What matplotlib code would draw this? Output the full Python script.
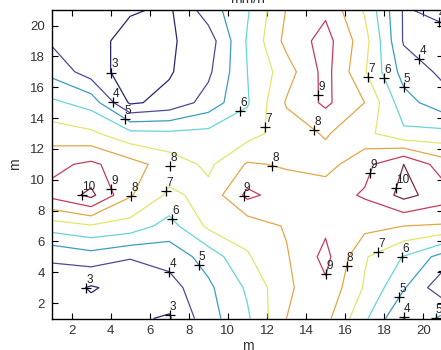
import numpy as np
import matplotlib
matplotlib.use("Agg")
import matplotlib.pyplot as plt

# grid coordinates (m)
x_pts = [1, 3, 5, 7, 9, 11, 13, 15, 17, 19, 21]
y_pts = [1, 3, 5, 7, 9, 11, 13, 15, 17, 19, 21]

# values (mm/h), rows from y=1 (bottom) to y=21 (top)
z_y01 = [3.6, 3.5, 3.15, 2.9, 4.6, 5.85, 8.0, 8.3, 6.2, 3.95, 5.26]
z_y03 = [3.6, 2.9, 3.4, 3.57, 4.8, 6.15, 7.8, 8.8, 6.9, 5.1, 3.3]
z_y05 = [4.1, 4.53, 4.05, 4.4, 5.4, 6.9, 7.9, 9.3, 7.1, 5.95, 4.6]
z_y07 = [6.5, 6.9, 6.6, 5.6, 7.2, 7.4, 8.1, 8.8, 8.3, 8.0, 7.9]
z_y09 = [9.3, 10.25, 8.1, 6.8, 7.3, 9.25, 8.5, 8.6, 9.1, 10.3, 9.5]
z_y11 = [8.75, 9.2, 8.4, 7.53, 6.8, 8.1, 7.9, 7.6, 8.7, 10.0, 8.5]
z_y13 = [7.5, 7.2, 6.3, 6.2, 6.3, 6.6, 7.5, 8.1, 7.3, 6.2, 6.3]
z_y15 = [6.2, 5.6, 2.85, 3.3, 4.4, 5.9, 8.1, 9.2, 8.0, 5.4, 4.4]
z_y17 = [4.7, 3.5, 2.5, 2.9, 3.8, 6.0, 7.54, 9.35, 7.1, 4.6, 3.8]
z_y19 = [3.85, 3.4, 2.6, 2.88, 3.475, 6.1, 8.3, 9.4, 7.4, 3.9, 3.6]
z_y21 = [3.7, 3.4, 3.1, 2.85, 4.5, 5.9, 8.05, 8.8, 6.9, 3.9, 4.3]

levels = [3, 4, 5, 6, 7, 8, 9, 10]
level_colors = ['#26266e', '#4a4a96', '#3a9cc0', '#66d4d8',
                '#e4e46a', '#e3a646', '#c83a5a', '#7a2a4c']

# contour label anchors: (level, x, y)
label_lv = [3, 4, 5, 6, 7, 8, 9, 7, 6, 5, 4, 4,
            8, 10, 9, 8, 7, 6, 9, 8, 9, 10,
            4, 5, 3, 3, 9, 8, 7, 6, 5, 4, 4, 5]
label_x = [3.9, 3.8, 4.6, 11.0, 12.35, 14.4, 14.5, 16.7, 17.7, 19.0, 19.8, 20.5,
           7.05, 2.5, 4.1, 5.17, 6.65, 7.2, 10.8, 12.35, 17.15, 18.7,
           7.05, 8.4, 2.7, 7.15, 15.05, 16.2, 17.7, 18.85, 18.7, 18.85, 20.55, 20.6]
label_y = [16.9, 14.8, 13.8, 13.9, 13.4, 13.2, 15.5, 16.5, 16.5, 16.0, 17.8, 19.7,
           10.9, 8.9, 9.4, 8.8, 9.4, 7.5, 8.9, 11.15, 10.5, 9.45,
           4.1, 4.4, 2.9, 1.3, 3.9, 4.4, 5.25, 5.05, 2.45, 1.15, 4.4, 1.1]

plt.rcParams['font.family'] = ['Liberation Sans', 'DejaVu Sans']

Z = np.array([z_y01, z_y03, z_y05, z_y07, z_y09, z_y11,
              z_y13, z_y15, z_y17, z_y19, z_y21])
X, Y = np.meshgrid(x_pts, y_pts)

fig = plt.figure(figsize=(4.41, 3.5), dpi=100)
ax = fig.add_axes([0.118, 0.09, 0.886, 0.881])
cs = ax.contour(X, Y, Z, levels=levels, colors=level_colors, linewidths=0.9)

for lv, lx, ly in zip(label_lv, label_x, label_y):
    px, py = lx, ly
    try:
        idx = levels.index(lv)
        res = cs.find_nearest_contour(lx, ly, indices=[idx], pixel=False)
        cx, cy = res[3], res[4]
        if (cx - lx) ** 2 + (cy - ly) ** 2 < 0.8 ** 2:
            px, py = cx, cy
    except Exception:
        pass
    ax.plot(px, py, marker='+', color='black', markersize=7, mew=0.9)
    ax.annotate(str(lv), (px, py), xytext=(0.0, 1.5), textcoords='offset points',
                ha='left', va='bottom', fontsize=8.5, color='#222222')

ax.set_xlim(1, 21)
ax.set_ylim(1, 21)
ax.set_xticks(range(2, 21, 2))
ax.set_yticks(range(2, 21, 2))
ax.tick_params(direction='in', top=True, right=True, length=4, width=0.8,
               labelsize=9.5, colors='black', labelcolor='#333333', pad=5)
for sp in ax.spines.values():
    sp.set_linewidth(1.0)
ax.set_xlabel('m', fontsize=10, color='#333333', labelpad=1)
ax.set_ylabel('m', fontsize=10, color='#333333', labelpad=6)
ax.set_title('mm/h', fontsize=10, color='#333333', pad=5)

fig.savefig('out.png', dpi=100)
